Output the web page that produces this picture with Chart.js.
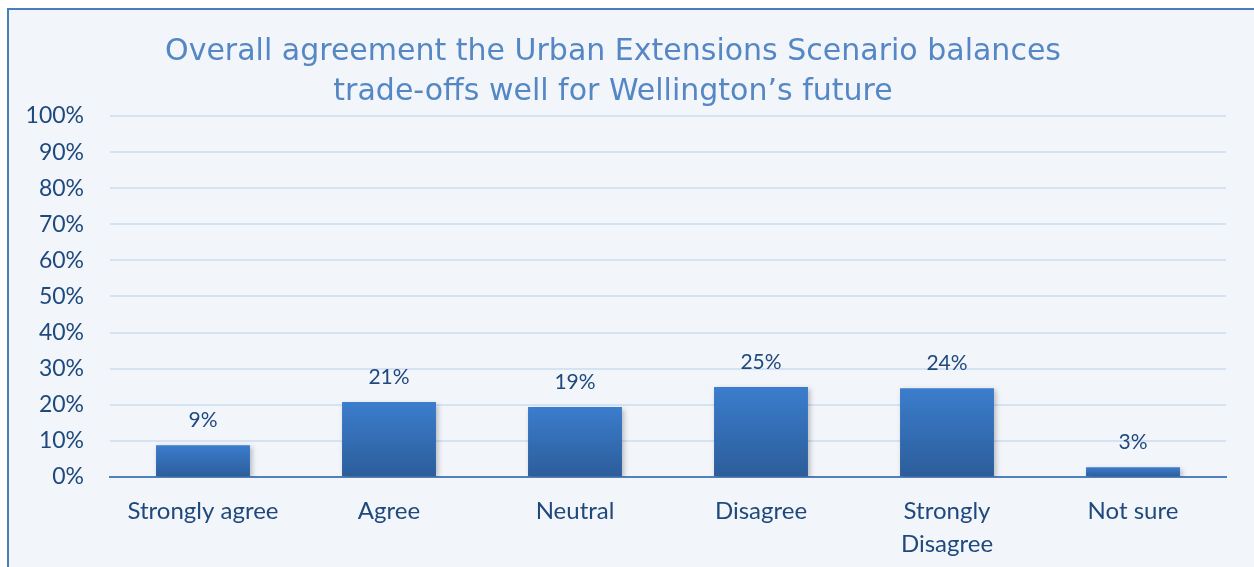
<!DOCTYPE html>
<html>
<head>
<meta charset="utf-8">
<script src="https://cdn.jsdelivr.net/npm/chart.js@4.4.0/dist/chart.umd.min.js"></script>
<style>
  html, body { margin:0; padding:0; background:#ffffff; }
  #wrap { position:absolute; left:0; top:0; width:1254px; height:567px; overflow:hidden; background:#ffffff; }
  #frame { position:absolute; left:7px; top:8px; width:1300px; height:620px; border:2px solid #4A7EBB; background:#F2F6FB; box-sizing:border-box; }
  #c { position:absolute; left:0; top:0; }
</style>
</head>
<body>
<div id="wrap">
  <div id="frame"></div>
  <canvas id="c" width="1254" height="567"></canvas>
</div>
<script>
const titleLines = ["Overall agreement the Urban Extensions Scenario balances", "trade-offs well for Wellington\u2019s future"];
const categories = ["Strongly agree", "Agree", "Neutral", "Disagree", ["Strongly", "Disagree"], "Not sure"];
const values = [8.8, 20.8, 19.4, 24.9, 24.6, 2.7];
const valueLabels = ["9%", "21%", "19%", "25%", "24%", "3%"];
const yTicks = [0, 10, 20, 30, 40, 50, 60, 70, 80, 90, 100];

const textColor = '#1F497D';
const fontFam = 'Lato, "Open Sans", sans-serif';

const barShadow = {
  id: 'barShadow',
  beforeDatasetDraw(chart) {
    const ctx = chart.ctx;
    ctx.save();
    ctx.shadowColor = 'rgba(0,0,0,0.25)';
    ctx.shadowBlur = 5;
    ctx.shadowOffsetX = 2;
    ctx.shadowOffsetY = 2;
  },
  afterDatasetDraw(chart) { chart.ctx.restore(); }
};

const barLabels = {
  id: 'barLabels',
  afterDatasetsDraw(chart) {
    const ctx = chart.ctx;
    const meta = chart.getDatasetMeta(0);
    ctx.save();
    ctx.font = '21px ' + fontFam;
    ctx.fillStyle = textColor;
    ctx.textAlign = 'center';
    ctx.textBaseline = 'middle';
    meta.data.forEach((bar, i) => {
      ctx.fillText(valueLabels[i], bar.x, bar.y - 25);
    });
    ctx.restore();
  }
};

new Chart(document.getElementById('c'), {
  type: 'bar',
  data: {
    labels: categories,
    datasets: [{
      data: values,
      backgroundColor(context) {
        const chart = context.chart;
        const y = chart.scales.y;
        if (!y || !chart.chartArea) return '#3470BA';
        const v = context.raw || 0;
        const top = y.getPixelForValue(v);
        const bottom = y.getPixelForValue(0);
        if (!isFinite(top) || top === bottom) return '#3470BA';
        const g = chart.ctx.createLinearGradient(0, top, 0, bottom);
        g.addColorStop(0, '#3B7DCD');
        g.addColorStop(1, '#2C5D9A');
        return g;
      },
      borderWidth: 0,
      barPercentage: 0.505,
      categoryPercentage: 1.0
    }]
  },
  options: {
    responsive: false,
    animation: false,
    devicePixelRatio: 1,
    layout: { padding: { left: 0, right: 28, top: 0, bottom: 0 } },
    plugins: {
      legend: { display: false },
      tooltip: { enabled: false },
      title: {
        display: true,
        text: titleLines,
        color: '#5587C4',
        font: { family: '"DejaVu Sans", sans-serif', size: 30, weight: 'normal', lineHeight: 1.333 },
        padding: { top: 32, bottom: 4 }
      }
    },
    scales: {
      x: {
        grid: { display: false, drawTicks: false },
        border: { display: true, color: '#4F81BD', width: 2 },
        ticks: { color: textColor, font: { family: fontFam, size: 24, lineHeight: 1.38 }, padding: 18, maxRotation: 0, autoSkip: false },
        afterFit(scale) { scale.height = 90; }
      },
      y: {
        min: 0, max: 100,
        afterBuildTicks(scale) { scale.ticks = yTicks.map(v => ({ value: v })); },
        grid: { color: '#D5E2F2', lineWidth: 2, drawTicks: false },
        border: { display: false },
        ticks: { color: textColor, font: { family: fontFam, size: 23 }, padding: 26, callback: v => v + '%' },
        afterFit(scale) { scale.width = 110; }
      }
    }
  },
  plugins: [barShadow, barLabels]
});
</script>
</body>
</html>
